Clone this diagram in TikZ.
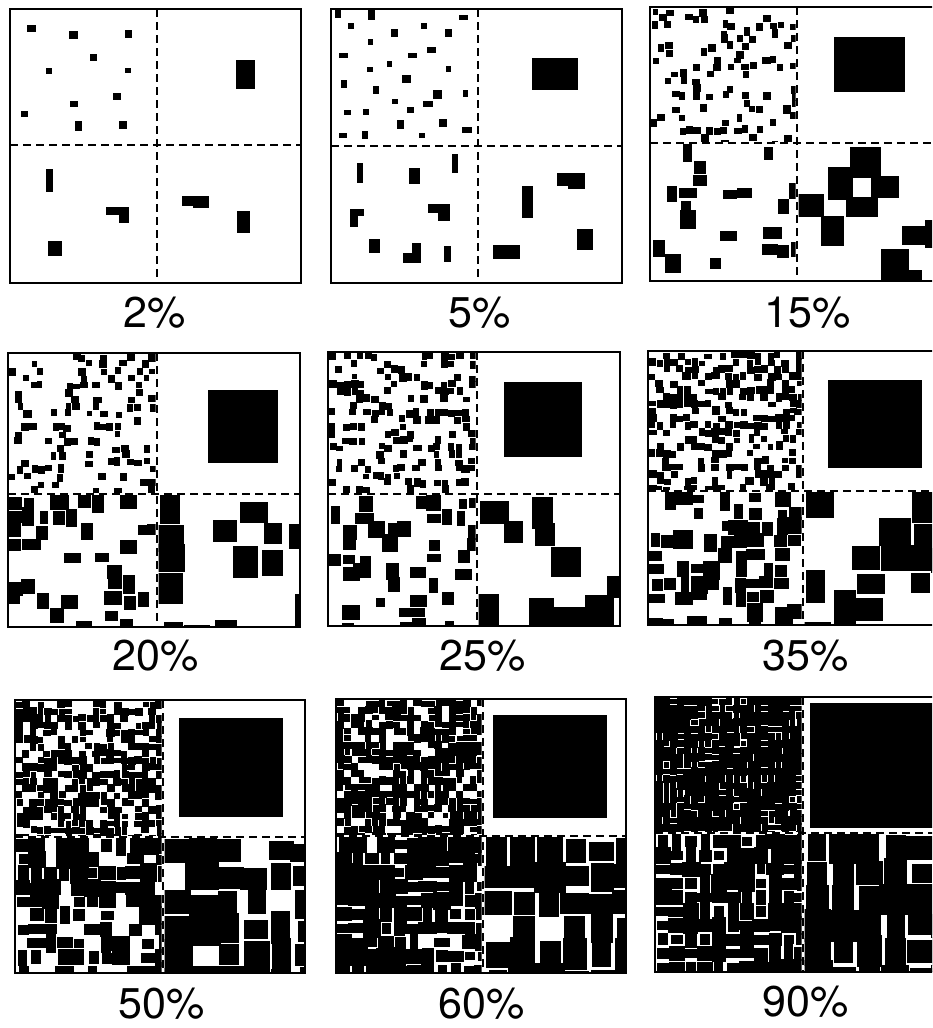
\documentclass[tikz,border=0pt]{standalone}
\usepackage{fontspec}
\setmainfont{TeX Gyre Heros}
\usepackage{tikz}
\tikzset{
  frame/.style={draw=black,line width=1pt},
  divide/.style={draw=black,line width=0.9pt,dash pattern=on 4pt off 2.5pt},
  pct/.style={font=\fontsize{21.5}{26}\selectfont,inner sep=0pt}}

% random blots on a grid: x0 y0 x1 y1 cell prob spread
\newcommand{\blots}[7]{%
  \begin{scope}
    \clip (#1,#2) rectangle (#3,#4);
    \pgfmathsetmacro\blp{min(1,#6)}
    \pgfmathsetmacro\bljit{0.5*(1-\blp)+0.04}
    \pgfmathtruncatemacro\blnx{(#3-(#1))/#5}
    \pgfmathtruncatemacro\blny{(#4-(#2))/#5}
    \foreach \bli in {0,...,\blnx}{
      \foreach \blj in {0,...,\blny}{
        \pgfmathsetmacro\blrnd{rnd}
        \ifdim\blrnd pt<\blp pt
          \pgfmathsetmacro\blx{#1+(\bli+0.5)*#5+(rnd-0.5)*\bljit*#5}
          \pgfmathsetmacro\bly{#2+(\blj+0.5)*#5+(rnd-0.5)*\bljit*#5}
          \pgfmathsetmacro\blw{#5*(1-#7+2*#7*rnd)/2}
          \pgfmathsetmacro\blh{#5*(1-#7+2*#7*rnd)/2}
          \fill (\blx-\blw,\bly-\blh) rectangle (\blx+\blw,\bly+\blh);
        \fi
      }}
  \end{scope}}

% border and dashed cross: left top right bottom vsplit hsplit
\newcommand{\panelframe}[6]{%
  \draw[frame] (#1,#2) rectangle (#3,#4);
  \draw[divide] (#5,#2) -- (#5,#4);
  \draw[divide] (#1,#6) -- (#3,#6);}

% random panel: left top right bottom vsplit hsplit prob
\newcommand{\panel}[7]{%
  \blots{#1+1}{#2+1}{#5-1.5}{#6-1.5}{7}{#7*1.35}{0.2}
  \blots{#1+1}{#6+1.5}{#5-1.5}{#4-1}{14}{#7*1.6}{0.4}
  \blots{#5+1.5}{#6+1.5}{#3-1}{#4-1}{26}{#7*1.5}{0.3}
  \panelframe{#1}{#2}{#3}{#4}{#5}{#6}}

\begin{document}
\begin{tikzpicture}[x=0.5pt,y=-0.5pt]
  \useasboundingbox (0,0) rectangle (932,1028);
  \clip (0,0) rectangle (932,1028);
  \pgfmathsetseed{2024}

  % row 1
  \foreach \ax/\ay/\bx/\by in {27/25/36/32, 69/31/78/39, 125/30/132/38,
      90/54/97/61, 46/68/52/74, 125/68/131/73, 113/93/121/100, 70/101/78/107,
      21/111/28/117, 75/121/82/131, 119/121/127/129,
      46/169/53/192, 106/207/128/215, 119/207/129/223, 48/241/62/256,
      182/196/209/206, 193/196/209/208, 237/211/250/233, 236/60/255/89}
    \fill (\ax,\ay) rectangle (\bx,\by);
  \panelframe{10}{9}{301}{283}{157}{145}
  \node[pct] (lab2) at (155,313) {2\%};

  \foreach \ax/\ay/\bx/\by in {335/9/341/18, 368/9/375/20, 459/15/468/20,
      348/23/354/29, 391/29/398/37, 421/23/427/29, 445/29/452/37, 368/39/373/45,
      339/53/348/58, 408/53/417/58, 427/47/436/53, 387/61/392/67, 367/67/373/72,
      446/66/451/72, 341/80/347/88, 402/75/411/83, 373/86/379/94, 433/90/442/99,
      463/90/468/97, 392/99/398/104, 423/101/433/107, 407/107/414/113,
      344/110/351/115, 363/109/369/115, 397/120/404/129, 439/119/447/127,
      339/133/347/138, 362/131/368/139, 419/133/425/138, 462/127/472/133,
      357/163/363/183, 409/168/420/184, 452/154/458/173,
      350/209/364/216, 350/209/358/227, 428/204/450/213, 438/204/450/221,
      369/239/380/253, 403/253/420/263, 412/243/421/263, 444/246/451/262,
      557/173/585/186, 568/173/585/189, 522/186/533/218, 577/229/593/250,
      493/245/520/259, 532/58/578/90}
    \fill (\ax,\ay) rectangle (\bx,\by);
  \panelframe{331}{9}{622}{283}{478}{146}
  \node[pct] (lab5) at (480,313) {5\%};

  \panel{650}{7}{941}{281}{797}{143}{0.15}
  \fill (834,37) rectangle (905,92);
  \node[pct] (lab15) at (808,313) {15\%};

  % row 2
  \panel{8}{353}{300}{627}{157}{494}{0.20}
  \fill (208,390) rectangle (278,463);
  \node[pct] (lab20) at (156,656) {20\%};

  \panel{328}{352}{620}{626}{477}{494}{0.25}
  \fill (504,382) rectangle (582,457);
  \node[pct] (lab25) at (483,656) {25\%};

  \panel{648}{351}{940}{625}{803}{491}{0.35}
  \fill (828,380) rectangle (922,468);
  \node[pct] (lab35) at (806,656) {35\%};

  % row 3
  \panel{15}{700}{305}{973}{163}{837}{0.50}
  \fill (179,718) rectangle (283,817);
  \node[pct] (lab50) at (162,1004) {50\%};

  \panel{336}{699}{626}{973}{483}{836}{0.60}
  \fill (493,715) rectangle (607,818);
  \node[pct] (lab60) at (482,1004) {60\%};

  \panel{655}{697}{945}{972}{803}{833}{0.90}
  \fill (810,703) rectangle (945,828);
  \node[pct] (lab90) at (806,1002) {90\%};
\end{tikzpicture}
\end{document}
